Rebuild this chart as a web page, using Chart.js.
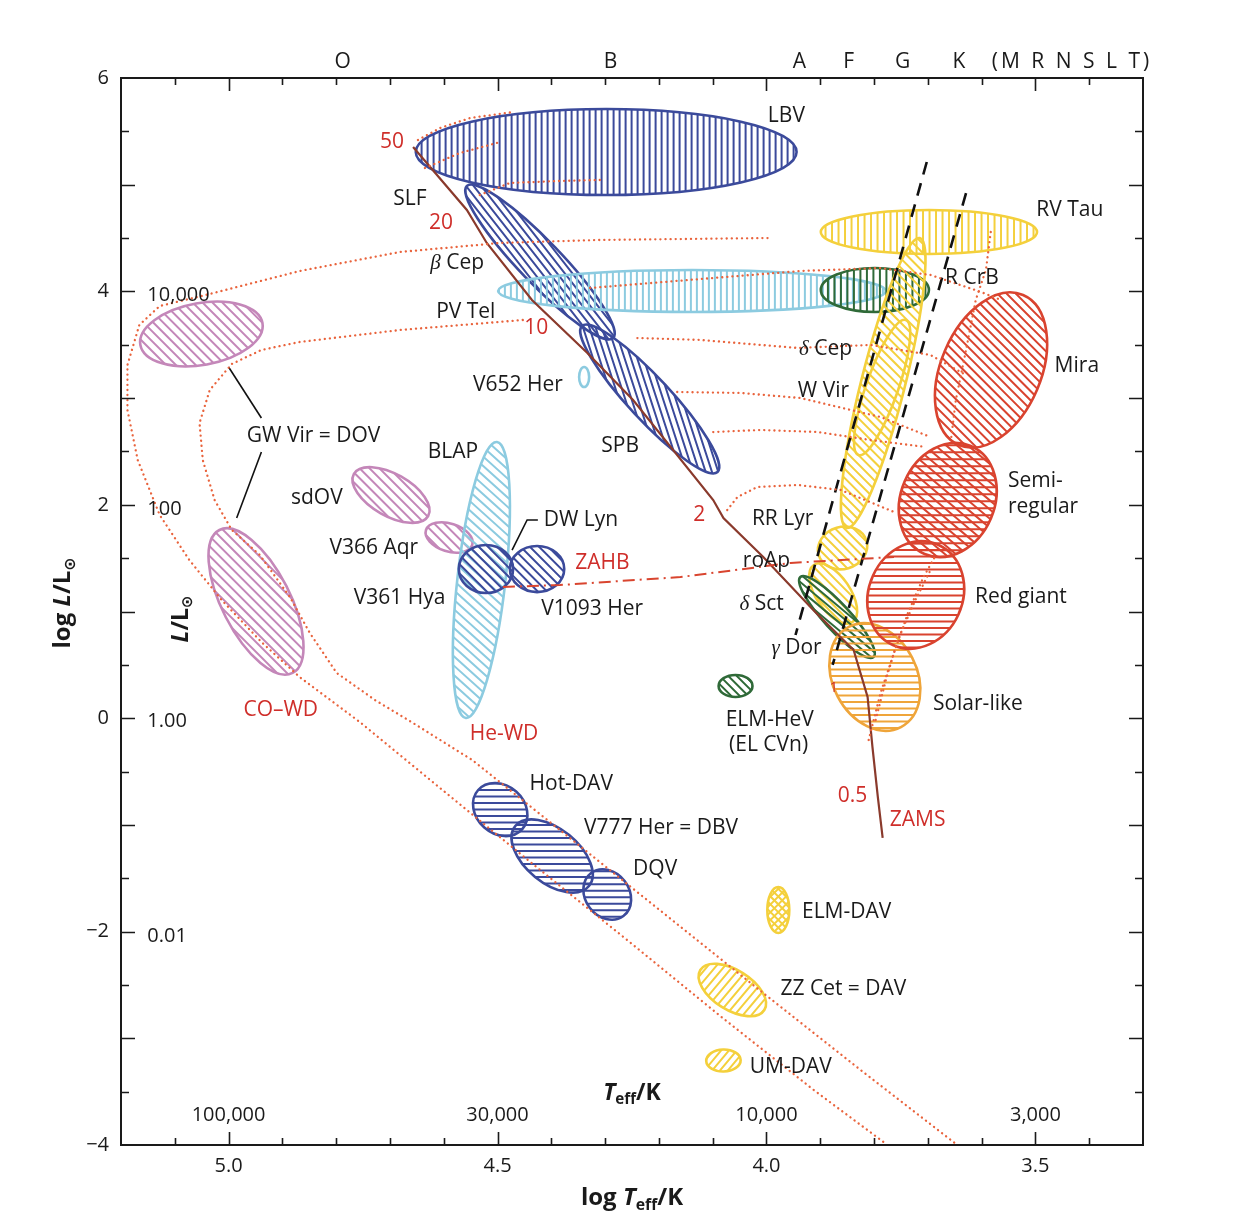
<!DOCTYPE html>
<html><head><meta charset="utf-8">
<script src="https://cdn.jsdelivr.net/npm/chart.js@4.4.1/dist/chart.umd.min.js"></script>
<style>html,body{margin:0;padding:0;background:#fff;}canvas{display:block;}</style>
</head><body>
<canvas id="c" width="1236" height="1232"></canvas>
<script>
// ---------------- DATA (log Teff, log L/Lsun) ----------------
const xTickValues = [5.0, 4.5, 4.0, 3.5];
const yTickValues = [6, 4, 2, 0, -2, -4];
const tempLabels = ['100,000', '30,000', '10,000', '3,000'];
const tempLabelLogT = [5.0, 4.5, 4.0, 3.5];
const tempLabelLogL = -3.72;
const lumLabels = ['10,000', '100', '1.00', '0.01'];
const lumLabelLogL = [3.966, 1.961, -0.026, -2.041];
const lumLabelLogT = 5.151;
const spectralClasses = ['O', 'B', 'A', 'F', 'G', 'K', '(M R N S L T)'];
const spectralLogT = [4.788, 4.290, 3.939, 3.847, 3.747, 3.642, 3.432];

// zero-age main sequence
const zamsLogT = [4.657, 4.557, 4.520, 4.436, 4.333, 4.248, 4.099, 4.080, 4.006, 3.913, 3.838, 3.812, 3.803, 3.793, 3.784];
const zamsLogL = [5.353, 4.763, 4.454, 3.920, 3.423, 2.982, 2.045, 1.876, 1.511, 1.014, 0.639, 0.199, -0.268, -0.737, -1.121];
// zero-age horizontal branch
const zahbLogT = [4.490, 4.384, 4.160, 3.955, 3.763];
const zahbLogL = [1.230, 1.248, 1.323, 1.455, 1.511];
// classical instability strip edges
const blueEdgeLogT = [3.702, 3.946];
const blueEdgeLogL = [5.213, 0.780];
const redEdgeLogT = [3.629, 3.877];
const redEdgeLogL = [4.922, 0.499];
// post-AGB / white dwarf cooling tracks
const postAgbOuterLogT = [3.998, 4.309, 4.495, 4.682, 4.868, 5.035, 5.128, 5.166, 5.188, 5.188, 5.169, 5.128, 5.073, 5.013, 4.939, 4.868, 4.756, 4.607, 4.439, 4.259, 4.086, 3.912, 3.780];
const postAgbOuterLogL = [4.500, 4.482, 4.454, 4.369, 4.191, 3.976, 3.863, 3.685, 3.310, 2.888, 2.420, 1.904, 1.483, 1.108, 0.714, 0.386, -0.036, -0.654, -1.348, -2.079, -2.791, -3.485, -3.981];
const postAgbInnerLogT = [4.453, 4.682, 4.868, 4.939, 4.994, 5.035, 5.054, 5.048, 5.026, 4.994, 4.942, 4.886, 4.849, 4.799, 4.728, 4.657, 4.547, 4.384, 4.136, 4.006, 3.825, 3.650];
const postAgbInnerLogL = [3.732, 3.638, 3.526, 3.451, 3.320, 3.076, 2.767, 2.420, 2.045, 1.764, 1.530, 1.136, 0.799, 0.424, 0.171, -0.045, -0.392, -1.048, -2.051, -2.576, -3.297, -3.981];
// evolutionary tracks
const track50aLogT = [4.648, 4.607, 4.551, 4.471];
const track50aLogL = [5.419, 5.531, 5.625, 5.681];
const track50bLogT = [4.635, 4.570, 4.495];
const track50bLogL = [5.157, 5.297, 5.400];
const track40LogT = [4.533, 4.477, 4.384, 4.309];
const track40LogL = [4.903, 5.016, 5.035, 5.044];
const track15LogT = [4.328, 4.123, 3.937, 3.788, 3.695, 3.601, 3.564];
const track15LogL = [4.032, 4.116, 4.191, 4.219, 4.154, 3.994, 3.919];
const track12LogT = [4.240, 4.123, 3.942, 3.806, 3.695, 3.629];
const track12LogL = [3.563, 3.545, 3.470, 3.498, 3.404, 3.216];
const track9LogT = [4.166, 4.048, 3.937, 3.788, 3.695];
const track9LogL = [3.057, 3.048, 3.001, 2.823, 2.635];
const track6LogT = [4.099, 4.011, 3.905, 3.806, 3.704];
const track6LogL = [2.682, 2.701, 2.682, 2.607, 2.542];
const track2LogT = [4.073, 4.054, 4.017, 3.942, 3.862, 3.763];
const track2LogL = [1.951, 2.073, 2.167, 2.186, 2.139, 1.933];
const rgbALogT = [3.810, 3.788, 3.763, 3.737, 3.708, 3.685];
const rgbALogL = [-0.204, 0.236, 0.611, 0.986, 1.323, 1.530];
const rgbBLogT = [3.797, 3.778, 3.756, 3.723, 3.695];
const rgbBLogL = [-0.017, 0.358, 0.733, 1.108, 1.389];
const agbLogT = [3.583, 3.592, 3.611, 3.629, 3.648, 3.657];
const agbLogL = [4.557, 4.201, 3.919, 3.451, 2.982, 2.607];
// leader lines
const gwLeaderALogT = [5.000, 4.939];
const gwLeaderALogL = [3.291, 2.814];
const gwLeaderBLogT = [4.939, 4.985];
const gwLeaderBLogL = [2.495, 1.876];
const dwLeaderLogT = [4.425, 4.445, 4.473];
const dwLeaderLogL = [1.858, 1.858, 1.576];

// instability regions: major-axis end points and half width (dex in log L)
const regionNames = ['LBV', 'beta Cep', 'SPB', 'PV Tel', 'R CrB', 'RV Tau', 'Cep strip', 'W Vir', 'RR Lyr', 'delta Sct', 'gamma Dor', 'Solar-like', 'Red giant', 'Semi-regular', 'Mira', 'GW Vir', 'CO-WD', 'sdOV', 'V366 Aqr', 'BLAP', 'V361 Hya', 'V1093 Her', 'V652 Her', 'ELM-HeV', 'Hot-DAV', 'V777 Her', 'DQV', 'ELM-DAV', 'ZZ Cet', 'UM-DAV'];
const regionT1 = [4.652, 4.557, 4.343, 4.499, 3.899, 3.899, 3.715, 3.741, 3.903, 3.912, 3.937, 3.847, 3.680, 3.620, 3.523, 5.164, 5.017, 4.767, 4.633, 4.501, 4.572, 4.477, 4.339, 4.089, 4.536, 4.467, 4.326, 3.978, 4.123, 4.112];
const regionL1 = [5.306, 4.988, 3.676, 4.004, 4.013, 4.557, 4.500, 3.732, 1.530, 1.436, 1.323, 0.855, 1.623, 2.551, 3.966, 3.498, 1.764, 2.289, 1.764, 2.589, 1.398, 1.398, 3.291, 0.302, -0.673, -1.010, -1.451, -1.582, -2.360, -3.213];
const regionT2 = [3.944, 4.285, 4.091, 3.778, 3.698, 3.497, 3.851, 3.829, 3.814, 3.840, 3.801, 3.750, 3.765, 3.706, 3.642, 4.937, 4.881, 4.629, 4.547, 4.559, 4.471, 4.376, 4.339, 4.026, 4.454, 4.330, 4.266, 3.978, 4.004, 4.048];
const regionL2 = [5.306, 3.563, 2.307, 4.004, 4.013, 4.557, 1.783, 2.467, 1.661, 0.902, 0.574, -0.083, 0.686, 1.539, 2.560, 3.704, 0.424, 1.895, 1.623, 0.002, 1.398, 1.398, 3.104, 0.302, -1.039, -1.573, -1.854, -2.013, -2.735, -3.203];
const regionHalfWidth = [0.403, 0.197, 0.197, 0.197, 0.206, 0.206, 0.205, 0.150, 0.197, 0.160, 0.122, 0.394, 0.440, 0.440, 0.469, 0.290, 0.319, 0.197, 0.131, 0.225, 0.225, 0.216, 0.047, 0.103, 0.225, 0.253, 0.206, 0.103, 0.187, 0.103];

// text labels
const labelTexts = ['LBV', 'SLF', '50', '20', 'β Cep', 'PV Tel', '10', 'V652 Her', 'SPB', 'BLAP', 'GW Vir = DOV', 'sdOV', 'V366 Aqr', 'V361 Hya', 'DW Lyn', 'ZAHB', 'V1093 Her', 'He-WD', 'CO–WD', 'RV Tau', 'R CrB', 'δ Cep', 'W Vir', 'Mira', 'Semi-', 'regular', 'RR Lyr', '2', 'roAp', 'δ Sct', 'Red giant', 'γ Dor', 'Solar-like', 'ELM-HeV', '(EL CVn)', '0.5', 'ZAMS', '1', 'Hot-DAV', 'V777 Her = DBV', 'DQV', 'ELM-DAV', 'ZZ Cet = DAV', 'UM-DAV'];
const labelLogT = [3.963, 4.663, 4.696, 4.605, 4.575, 4.559, 4.428, 4.462, 4.272, 4.583, 4.842, 4.836, 4.730, 4.682, 4.345, 4.305, 4.324, 4.488, 4.903, 3.436, 3.618, 3.890, 3.894, 3.423, 3.551, 3.551, 3.970, 4.125, 4.000, 4.009, 3.527, 3.944, 3.607, 3.994, 3.996, 3.840, 3.719, 3.875, 4.363, 4.196, 4.207, 3.851, 3.857, 3.955];
const labelLogL = [5.644, 4.866, 5.400, 4.641, 4.266, 3.807, 3.657, 3.123, 2.551, 2.495, 2.645, 2.064, 1.595, 1.127, 1.858, 1.455, 1.023, -0.148, 0.077, 4.763, 4.126, 3.460, 3.067, 3.301, 2.223, 1.979, 1.867, 1.904, 1.473, 1.070, 1.136, 0.658, 0.133, -0.017, -0.251, -0.729, -0.954, 0.283, -0.617, -1.029, -1.413, -1.816, -2.538, -3.269];

// ---------------- STYLES ----------------
const COL = {blue:'#3b4a9b', lblue:'#8ccbe0', green:'#2f6a38', yellow:'#f4d03c', orange:'#efa53a', red:'#d9432f', pink:'#c487b9'};
const regionStyle = {
  'LBV':{c:COL.blue,h:[90],sp:6}, 'beta Cep':{c:COL.blue,h:[52],sp:6}, 'SPB':{c:COL.blue,h:[72],sp:6},
  'PV Tel':{c:COL.lblue,h:[90],sp:6}, 'R CrB':{c:COL.green,h:[90],sp:6.5}, 'RV Tau':{c:COL.yellow,h:[90],sp:6.5},
  'Cep strip':{c:COL.yellow,h:[45],sp:6.5}, 'W Vir':{c:COL.yellow,h:[],sp:6}, 'RR Lyr':{c:COL.yellow,h:[45],sp:6.5},
  'delta Sct':{c:COL.yellow,h:[45],sp:6.5}, 'gamma Dor':{c:COL.green,h:[40],sp:6}, 'Solar-like':{c:COL.orange,h:[0],sp:6.5},
  'Red giant':{c:COL.red,h:[0],sp:6.5}, 'Semi-regular':{c:COL.red,h:[40,0],sp:7}, 'Mira':{c:COL.red,h:[45],sp:6.5},
  'GW Vir':{c:COL.pink,h:[45],sp:7}, 'CO-WD':{c:COL.pink,h:[45],sp:7}, 'sdOV':{c:COL.pink,h:[45],sp:7},
  'V366 Aqr':{c:COL.pink,h:[45],sp:7}, 'BLAP':{c:COL.lblue,h:[42],sp:7}, 'V361 Hya':{c:COL.blue,h:[45],sp:6.5},
  'V1093 Her':{c:COL.blue,h:[45],sp:6.5}, 'V652 Her':{c:COL.lblue,h:[],sp:6}, 'ELM-HeV':{c:COL.green,h:[45],sp:6},
  'Hot-DAV':{c:COL.blue,h:[0],sp:6.5}, 'V777 Her':{c:COL.blue,h:[0],sp:6.5}, 'DQV':{c:COL.blue,h:[0],sp:6.5},
  'ELM-DAV':{c:COL.yellow,h:[45,-45],sp:5.5}, 'ZZ Cet':{c:COL.yellow,h:[-50],sp:6.5}, 'UM-DAV':{c:COL.yellow,h:[-50],sp:6}
};
const redLabels = new Set(['50','20','10','2','0.5','1','ZAMS','ZAHB','He-WD','CO–WD']);
const leftLabels = new Set(['Semi-','regular']);
const LABEL_RED = '#cf2e2a';
const SANS = '"Open Sans", "DejaVu Sans", sans-serif';

function pts(xs, ys){ return xs.map((x,i)=>({x:x, y:ys[i]})); }
const dotted = {borderColor:'#e9633c', borderWidth:2.3, borderDash:[0.1,5], borderCapStyle:'round'};
function trackDs(xs, ys, extra){ return Object.assign({data:pts(xs,ys), showLine:true, pointRadius:0, tension:0, fill:false}, extra); }

const datasets = [
  trackDs(postAgbOuterLogT, postAgbOuterLogL, dotted),
  trackDs(postAgbInnerLogT, postAgbInnerLogL, dotted),
  trackDs(track50aLogT, track50aLogL, dotted),
  trackDs(track50bLogT, track50bLogL, dotted),
  trackDs(track40LogT, track40LogL, dotted),
  trackDs(track15LogT, track15LogL, dotted),
  trackDs(track12LogT, track12LogL, dotted),
  trackDs(track9LogT, track9LogL, dotted),
  trackDs(track6LogT, track6LogL, dotted),
  trackDs(track2LogT, track2LogL, dotted),
  trackDs(rgbALogT, rgbALogL, dotted),
  trackDs(rgbBLogT, rgbBLogL, dotted),
  trackDs(agbLogT, agbLogL, dotted),
  trackDs(zahbLogT, zahbLogL, {borderColor:'#d9452f', borderWidth:2, borderDash:[12,5,2,5]}),
  trackDs(zamsLogT, zamsLogL, {borderColor:'#8a3a2c', borderWidth:2.2}),
  trackDs(blueEdgeLogT, blueEdgeLogL, {borderColor:'#111', borderWidth:2.6, borderDash:[13,9]}),
  trackDs(redEdgeLogT, redEdgeLogL, {borderColor:'#111', borderWidth:2.6, borderDash:[13,9]}),
  trackDs(gwLeaderALogT, gwLeaderALogL, {borderColor:'#111', borderWidth:1.6}),
  trackDs(gwLeaderBLogT, gwLeaderBLogL, {borderColor:'#111', borderWidth:1.6}),
  trackDs(dwLeaderLogT, dwLeaderLogL, {borderColor:'#111', borderWidth:1.6})
];

function fontStr(seg, base){
  const size = seg.sub ? base.size*0.66 : base.size;
  const fam = seg.serif ? '"Liberation Serif", "DejaVu Serif", serif' : SANS;
  return (seg.it?'italic ':'') + (base.bold?'bold ':'') + size.toFixed(1) + 'px ' + fam;
}
function drawRich(ctx, segs, x, y, base){
  ctx.save();
  ctx.translate(x, y);
  if (base.rot) ctx.rotate(base.rot);
  let w = 0;
  for (const s of segs){ ctx.font = fontStr(s, base); w += ctx.measureText(s.t).width; }
  let cx = base.align === 'left' ? 0 : -w/2;
  ctx.textBaseline = 'middle'; ctx.textAlign = 'left'; ctx.fillStyle = base.color || '#1a1a1a';
  for (const s of segs){
    ctx.font = fontStr(s, base);
    ctx.fillText(s.t, cx, s.sub ? base.size*0.3 : 0);
    cx += ctx.measureText(s.t).width;
  }
  ctx.restore();
}
function labelSegs(t){
  if ('βδγ'.includes(t[0])) return [{t:t[0], it:true, serif:true}, {t:t.slice(1)}];
  return [{t:t}];
}

const regionPlugin = {
  id:'regions',
  beforeDatasetsDraw(chart){
    const ctx = chart.ctx, xs = chart.scales.x, ys = chart.scales.y;
    const pu = Math.abs(ys.getPixelForValue(0) - ys.getPixelForValue(1));
    ctx.save();
    ctx.beginPath(); ctx.rect(chart.chartArea.left, chart.chartArea.top, chart.chartArea.width, chart.chartArea.height); ctx.clip();
    regionNames.forEach((name, i) => {
      const st = regionStyle[name];
      const p1x = xs.getPixelForValue(regionT1[i]), p1y = ys.getPixelForValue(regionL1[i]);
      const p2x = xs.getPixelForValue(regionT2[i]), p2y = ys.getPixelForValue(regionL2[i]);
      const cx = (p1x+p2x)/2, cy = (p1y+p2y)/2;
      const a = Math.max(Math.hypot(p2x-p1x, p2y-p1y)/2, 1);
      const ang = Math.atan2(p2y-p1y, p2x-p1x);
      const b = regionHalfWidth[i]*pu;
      const path = () => { ctx.beginPath(); ctx.ellipse(cx, cy, a, b, ang, 0, Math.PI*2); };
      ctx.save();
      path(); ctx.clip();
      ctx.strokeStyle = st.c; ctx.lineWidth = 2.0;
      const R = Math.max(a, b) + 3;
      for (const deg of st.h){
        const t = deg*Math.PI/180, dx = Math.cos(t), dy = Math.sin(t), nx = -dy, ny = dx;
        ctx.beginPath();
        for (let k = -R; k <= R; k += st.sp){
          const ox = cx + nx*k, oy = cy + ny*k;
          ctx.moveTo(ox - dx*R, oy - dy*R); ctx.lineTo(ox + dx*R, oy + dy*R);
        }
        ctx.stroke();
      }
      ctx.restore();
      path(); ctx.strokeStyle = st.c; ctx.lineWidth = 2.6; ctx.stroke();
    });
    ctx.restore();
  },
  afterDatasetsDraw(chart){
    const ctx = chart.ctx, xs = chart.scales.x, ys = chart.scales.y;
    labelTexts.forEach((t, i) => {
      const x = xs.getPixelForValue(labelLogT[i]), y = ys.getPixelForValue(labelLogL[i]);
      const red = redLabels.has(t);
      drawRich(ctx, labelSegs(t), x, y, {size: t === '1' ? 14 : 21, color: red ? LABEL_RED : '#1a1a1a', align: leftLabels.has(t) ? 'left' : 'center'});
    });
    tempLabels.forEach((t, i) => drawRich(ctx, [{t:t}], xs.getPixelForValue(tempLabelLogT[i]), ys.getPixelForValue(tempLabelLogL), {size:20}));
    lumLabels.forEach((t, i) => drawRich(ctx, [{t:t}], xs.getPixelForValue(lumLabelLogT), ys.getPixelForValue(lumLabelLogL[i]), {size:20, align:'left'}));
    drawRich(ctx, [{t:'T', it:true}, {t:'eff', sub:true}, {t:'/K'}], xs.getPixelForValue(4.250), ys.getPixelForValue(-3.513), {size:23, bold:true});
    drawRich(ctx, [{t:'L', it:true}, {t:'/L'}, {t:'⊙', sub:true}], xs.getPixelForValue(5.088), ys.getPixelForValue(0.93), {size:23, bold:true, rot:-Math.PI/2});
  },
  afterDraw(chart){
    const ctx = chart.ctx, xs = chart.scales.x, ys = chart.scales.y, ca = chart.chartArea;
    ctx.save();
    ctx.strokeStyle = '#1a1a1a'; ctx.lineWidth = 2;
    ctx.strokeRect(ca.left, ca.top, ca.width, ca.height);
    ctx.lineWidth = 1.6;
    ctx.beginPath();
    for (let k = 34; k <= 51; k++){
      const v = k/10, px = Math.round(xs.getPixelForValue(v)) + 0.5;
      const len = (k % 5 === 0) ? 13 : 7;
      ctx.moveTo(px, ca.bottom); ctx.lineTo(px, ca.bottom - len);
      ctx.moveTo(px, ca.top); ctx.lineTo(px, ca.top + len);
    }
    for (let k = -7; k <= 11; k++){
      const v = k/2, py = Math.round(ys.getPixelForValue(v)) + 0.5;
      const len = (k % 2 === 0) ? 14 : 8;
      ctx.moveTo(ca.left, py); ctx.lineTo(ca.left + len, py);
      ctx.moveTo(ca.right, py); ctx.lineTo(ca.right - len, py);
    }
    ctx.stroke();
    ctx.restore();
    spectralClasses.forEach((t, i) => {
      ctx.save();
      if (t.length > 1) ctx.letterSpacing = '3px';
      drawRich(ctx, [{t:t}], xs.getPixelForValue(spectralLogT[i]), ca.top - 16, {size:21});
      ctx.restore();
    });
    drawRich(ctx, [{t:'log '}, {t:'T', it:true}, {t:'eff', sub:true}, {t:'/K'}], xs.getPixelForValue(4.25), ca.bottom + 53, {size:24, bold:true});
    drawRich(ctx, [{t:'log '}, {t:'L', it:true}, {t:'/L'}, {t:'⊙', sub:true}], 63, ys.getPixelForValue(1.08), {size:24, bold:true, rot:-Math.PI/2});
  }
};

Chart.defaults.font.family = SANS;
new Chart(document.getElementById('c'), {
  type: 'scatter',
  data: {datasets: datasets},
  options: {
    responsive: false, devicePixelRatio: 1, animation: false, events: [],
    layout: {padding: {left: 0, top: 78, right: 93, bottom: 0}},
    plugins: {legend: {display: false}, tooltip: {enabled: false}},
    scales: {
      x: {type: 'linear', reverse: true, min: 3.3, max: 5.2, position: 'bottom',
          grid: {display: false, drawTicks: false}, border: {display: false},
          ticks: {autoSkip: false, maxRotation: 0, padding: 9, color: '#1a1a1a', font: {size: 20}, callback: v => Number(v).toFixed(1)},
          afterBuildTicks: s => { s.ticks = xTickValues.map(v => ({value: v})); },
          afterFit: s => { s.height = 87; }},
      y: {type: 'linear', min: -4, max: 6,
          grid: {display: false, drawTicks: false}, border: {display: false},
          ticks: {autoSkip: false, padding: 12, color: '#1a1a1a', font: {size: 20}, callback: v => v < 0 ? '−' + Math.abs(v) : String(v)},
          afterBuildTicks: s => { s.ticks = yTickValues.map(v => ({value: v})); },
          afterFit: s => { s.width = 121; }}
    }
  },
  plugins: [regionPlugin]
});
</script>
</body></html>
